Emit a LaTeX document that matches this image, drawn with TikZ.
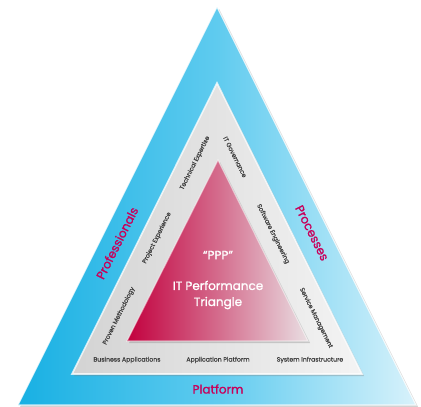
\documentclass[tikz,border=0pt]{standalone}
\usepackage{fontspec}
\setmainfont{Poppins}
\newfontfamily\heavyfont{Poppins}[FakeBold=1.2]
\newfontfamily\medfont{Poppins}[FakeBold=0.6]
\usetikzlibrary{shadows}
\definecolor{blueL}{HTML}{18B0E3}
\definecolor{blueM}{HTML}{5FCBEF}
\definecolor{blueR}{HTML}{D8F2FB}
\definecolor{grayL}{HTML}{D3D3D3}
\definecolor{grayR}{HTML}{F4F4F4}
\definecolor{redL}{HTML}{C2003E}
\definecolor{redM}{HTML}{D46B8C}
\definecolor{redR}{HTML}{E9DEE2}
\definecolor{magc}{HTML}{C8005A}
\definecolor{bandtext}{HTML}{3E3E3E}
\tikzset{
  mag/.style={text=magc, font=\heavyfont\fontsize{12}{14}\selectfont, inner sep=0pt},
  band/.style={text=bandtext, font=\medfont\fontsize{6.2}{7}\selectfont, inner sep=0pt},
  innertext/.style={text=white, font=\heavyfont\fontsize{12}{16}\selectfont, align=center, inner sep=0pt},
  shad/.style={drop shadow={opacity=0.35, shadow xshift=2pt, shadow yshift=-2pt}},
  rim/.style={draw=white, draw opacity=0.75, line width=1.2pt, line join=miter}
}
\begin{document}
\begin{tikzpicture}[x=1pt,y=-1pt]
\useasboundingbox (0,0) rectangle (421,407);
\fill[white] (0,0) rectangle (421,407);
\coordinate (OA) at (217,7);
\coordinate (OL) at (18,405);
\coordinate (OR) at (416,405);
\coordinate (MA) at (217,83);
\coordinate (ML) at (72,374);
\coordinate (MR) at (362,374);
\coordinate (IA) at (218,160);
\coordinate (IL) at (127,341);
\coordinate (IR) at (308,341);
% outer blue triangle
\path[shad, left color=blueL, right color=blueR, middle color=blueM] (OA) -- (OL) -- (OR) -- cycle;
\path[rim] (OA) -- (OL) -- (OR) -- cycle;
% gray band
\path[shad, left color=grayL, right color=grayR] (MA) -- (ML) -- (MR) -- cycle;
\path[rim, line width=1.6pt] (MA) -- (ML) -- (MR) -- cycle;
% inner red triangle
\path[shad, left color=redL, right color=redR, middle color=redM] (IA) -- (IL) -- (IR) -- cycle;
\path[rim, draw opacity=0.5] (IA) -- (IL) -- (IR) -- cycle;
% outer labels
\node[mag, rotate=63.43] (prof) at (117,243) {Professionals};
\node[mag, rotate=-63.43] (proc) at (312,233) {Processes};
\node[mag] (plat) at (218,389) {Platform};
% band labels
\node[band, rotate=63.43] (tech) at (195,163) {Technical Expertise};
\node[band, rotate=63.43] (proj) at (157,238) {Project Experience};
\node[band, rotate=63.43] (prov) at (119,316) {Proven Methodology};
\node[band, rotate=-63.43] (itg) at (235,157) {IT Governance};
\node[band, rotate=-63.43] (soft) at (273,234) {Software Engineering};
\node[band, rotate=-63.43] (serv) at (316,318) {Service Management};
\node[band] (bus) at (127,360) {Business Applications};
\node[band] (app) at (218,360) {Application Platform};
\node[band] (sys) at (310,360) {System Infrastructure};
% inner labels
\node[innertext] (ppp) at (218,255) {“PPP”};
\node[innertext] (itp) at (218,295) {IT Performance\\Triangle};
\end{tikzpicture}
\end{document}
